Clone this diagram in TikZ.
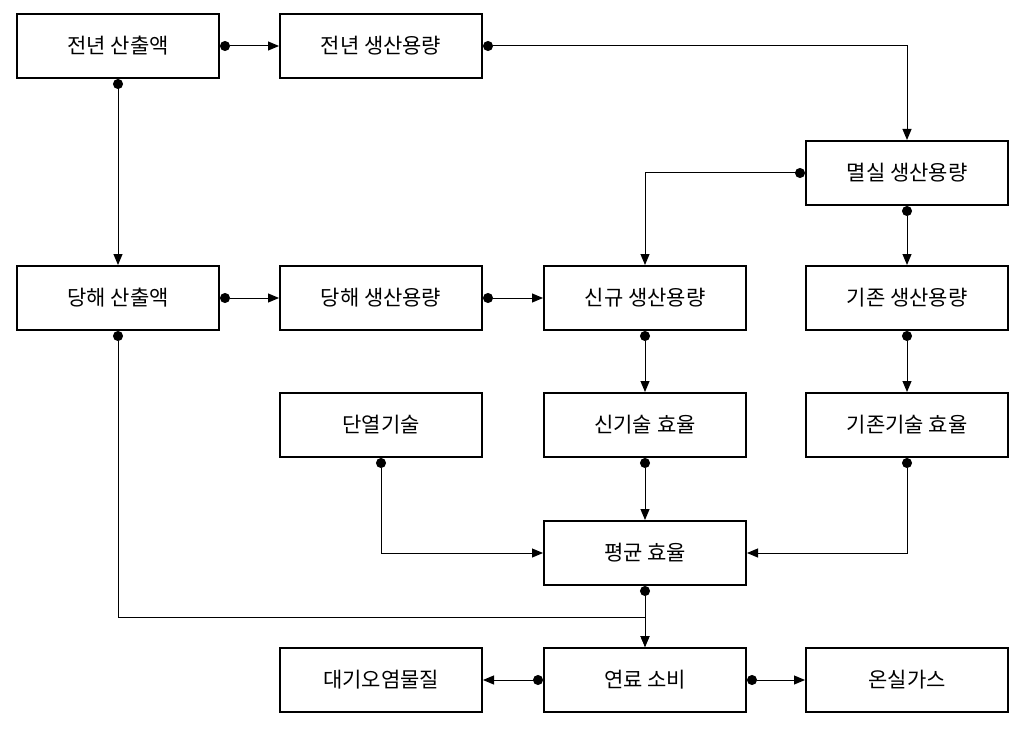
\documentclass[tikz,border=0pt]{standalone}
\usepackage{fontspec}
\setmainfont{Noto Sans CJK KR}
\usetikzlibrary{arrows.meta}
\usetikzlibrary{positioning}
\tikzset{
   box/.style={draw,line width=2pt,minimum width=202pt,minimum height=64pt,
     inner sep=0pt,font=\fontsize{21}{24}\selectfont},
   lnk/.style={{Circle[length=10pt]}-{Triangle[length=11pt,width=9pt]},line width=1pt},
}

\begin{document}
\begin{tikzpicture}[x=1pt,y=-1pt]
  \useasboundingbox (0,0) rectangle (1027,730);

  \node[box] (jjsan)  at (118, 46)  {전년 산출액};
  \node[box] (jjcap)  at (381, 46)  {전년 생산용량};
  \node[box] (mscap)  at (907,173)  {멸실 생산용량};

  \node[box] (dhsan)  at (118,298)  {당해 산출액};
  \node[box] (dhcap)  at (381,298)  {당해 생산용량};
  \node[box] (sgcap)  at (645,298)  {신규 생산용량};
  \node[box] (gjcap)  at (907,298)  {기존 생산용량};

  \node[box] (dyul)   at (381,425)  {단열기술};
  \node[box] (sgeff)  at (645,425)  {신기술 효율};
  \node[box] (gjeff)  at (907,425)  {기존기술 효율};

  \node[box] (avgeff) at (645,553)  {평균 효율};

  \node[box] (air)    at (381,680)  {대기오염물질};
  \node[box] (fuel)   at (645,680)  {연료 소비};
  \node[box] (ghg)    at (907,680)  {온실가스};

  \draw[lnk] (jjsan.east)  -- (jjcap.west);
  \draw[lnk] (jjcap.east)  -| (mscap.north);
  \draw[lnk] (jjsan.south) -- (dhsan.north);
  \draw[lnk] (mscap.west)  -| (sgcap.north);
  \draw[lnk] (mscap.south) -- (gjcap.north);

  \draw[lnk] (dhsan.east)  -- (dhcap.west);
  \draw[lnk] (dhcap.east)  -- (sgcap.west);
  \draw[lnk] (sgcap.south) -- (sgeff.north);
  \draw[lnk] (gjcap.south) -- (gjeff.north);

  \draw[lnk] (dyul.south)  |- (avgeff.west);
  \draw[lnk] (sgeff.south) -- (avgeff.north);
  \draw[lnk] (gjeff.south) |- (avgeff.east);

  \draw[lnk] (dhsan.south) -- (118,617) -| (fuel.north);
  \draw[lnk] (avgeff.south) -- (fuel.north);

  \draw[lnk] (fuel.west)   -- (air.east);
  \draw[lnk] (fuel.east)   -- (ghg.west);
\end{tikzpicture}
\end{document}
